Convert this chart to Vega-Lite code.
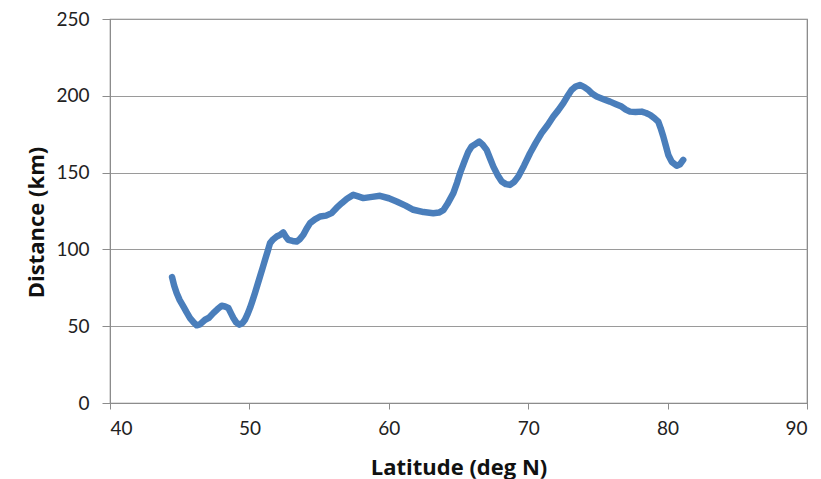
{
  "$schema": "https://vega.github.io/schema/vega-lite/v6.json",
  "width": 697,
  "height": 384,
  "autosize": {"type": "none"},
  "padding": {"left": 110, "top": 19, "right": 14, "bottom": 76},
  "background": "white",
  "config": {
    "view": {"stroke": "#808080", "strokeWidth": 1.2},
    "font": "Lato"
  },
  "data": {
    "values": [
      {"lat": 44.45, "dist": 82.0},
      {"lat": 44.6, "dist": 76.5},
      {"lat": 44.78, "dist": 71.6},
      {"lat": 45.0, "dist": 67.0},
      {"lat": 45.26, "dist": 62.9},
      {"lat": 45.5, "dist": 59.0},
      {"lat": 45.74, "dist": 55.3},
      {"lat": 46.0, "dist": 52.5},
      {"lat": 46.22, "dist": 50.6},
      {"lat": 46.45, "dist": 51.2},
      {"lat": 46.82, "dist": 54.2},
      {"lat": 47.1, "dist": 55.5},
      {"lat": 47.41, "dist": 58.5},
      {"lat": 47.7, "dist": 61.0},
      {"lat": 48.01, "dist": 63.3},
      {"lat": 48.25, "dist": 62.8},
      {"lat": 48.49, "dist": 61.8},
      {"lat": 48.7, "dist": 58.0},
      {"lat": 48.85, "dist": 55.3},
      {"lat": 49.05, "dist": 52.5},
      {"lat": 49.28, "dist": 51.0},
      {"lat": 49.5, "dist": 52.0},
      {"lat": 49.68, "dist": 54.2},
      {"lat": 49.85, "dist": 57.5},
      {"lat": 50.04, "dist": 61.8},
      {"lat": 50.2, "dist": 66.0},
      {"lat": 50.4, "dist": 71.6},
      {"lat": 50.58, "dist": 77.0},
      {"lat": 50.76, "dist": 82.4},
      {"lat": 50.95, "dist": 88.0},
      {"lat": 51.12, "dist": 93.2},
      {"lat": 51.3, "dist": 98.5},
      {"lat": 51.48, "dist": 104.1},
      {"lat": 51.7, "dist": 106.5},
      {"lat": 51.96, "dist": 108.4},
      {"lat": 52.2, "dist": 109.5},
      {"lat": 52.43, "dist": 111.0},
      {"lat": 52.6, "dist": 108.5},
      {"lat": 52.79, "dist": 106.2},
      {"lat": 53.1, "dist": 105.5},
      {"lat": 53.39, "dist": 105.1},
      {"lat": 53.6, "dist": 106.5},
      {"lat": 53.87, "dist": 109.5},
      {"lat": 54.1, "dist": 113.5},
      {"lat": 54.35, "dist": 117.1},
      {"lat": 54.7, "dist": 119.5},
      {"lat": 55.07, "dist": 121.4},
      {"lat": 55.5, "dist": 122.0},
      {"lat": 55.9, "dist": 123.6},
      {"lat": 56.25, "dist": 127.0},
      {"lat": 56.62, "dist": 130.1},
      {"lat": 57.0, "dist": 133.0},
      {"lat": 57.45, "dist": 135.5},
      {"lat": 57.8, "dist": 134.5},
      {"lat": 58.17, "dist": 133.4},
      {"lat": 58.8, "dist": 134.2},
      {"lat": 59.37, "dist": 134.9},
      {"lat": 60.0, "dist": 133.3},
      {"lat": 60.56, "dist": 131.2},
      {"lat": 61.2, "dist": 128.5},
      {"lat": 61.76, "dist": 125.8},
      {"lat": 62.5, "dist": 124.3},
      {"lat": 63.19, "dist": 123.6},
      {"lat": 63.6, "dist": 124.0},
      {"lat": 63.91, "dist": 125.5},
      {"lat": 64.2, "dist": 129.5},
      {"lat": 64.63, "dist": 136.6},
      {"lat": 64.9, "dist": 143.5},
      {"lat": 65.11, "dist": 149.6},
      {"lat": 65.47, "dist": 158.3},
      {"lat": 65.7, "dist": 163.5},
      {"lat": 65.94, "dist": 167.0},
      {"lat": 66.2, "dist": 168.5},
      {"lat": 66.49, "dist": 170.2},
      {"lat": 66.75, "dist": 168.0},
      {"lat": 67.02, "dist": 164.8},
      {"lat": 67.25, "dist": 159.5},
      {"lat": 67.5, "dist": 153.9},
      {"lat": 67.8, "dist": 148.5},
      {"lat": 68.1, "dist": 144.2},
      {"lat": 68.4, "dist": 142.5},
      {"lat": 68.69, "dist": 142.0},
      {"lat": 69.0, "dist": 144.0},
      {"lat": 69.29, "dist": 147.4},
      {"lat": 69.7, "dist": 154.5},
      {"lat": 70.13, "dist": 162.6},
      {"lat": 70.55, "dist": 169.5},
      {"lat": 70.96, "dist": 175.7},
      {"lat": 71.4, "dist": 181.0},
      {"lat": 71.8, "dist": 186.5},
      {"lat": 72.15, "dist": 190.5},
      {"lat": 72.52, "dist": 195.2},
      {"lat": 72.8, "dist": 199.5},
      {"lat": 73.11, "dist": 203.8},
      {"lat": 73.4, "dist": 206.0},
      {"lat": 73.71, "dist": 207.0},
      {"lat": 74.0, "dist": 205.8},
      {"lat": 74.31, "dist": 203.8},
      {"lat": 74.6, "dist": 201.3},
      {"lat": 74.91, "dist": 199.5},
      {"lat": 75.4, "dist": 197.8},
      {"lat": 75.87, "dist": 196.2},
      {"lat": 76.3, "dist": 194.5},
      {"lat": 76.7, "dist": 193.0},
      {"lat": 77.0, "dist": 191.0},
      {"lat": 77.3, "dist": 189.7},
      {"lat": 77.7, "dist": 189.5},
      {"lat": 78.14, "dist": 189.7},
      {"lat": 78.45, "dist": 188.8},
      {"lat": 78.74, "dist": 187.6},
      {"lat": 79.05, "dist": 185.5},
      {"lat": 79.33, "dist": 183.2},
      {"lat": 79.5, "dist": 179.0},
      {"lat": 79.69, "dist": 173.5},
      {"lat": 79.87, "dist": 167.5},
      {"lat": 80.05, "dist": 161.5},
      {"lat": 80.3, "dist": 157.0},
      {"lat": 80.65, "dist": 154.5},
      {"lat": 80.9, "dist": 155.5},
      {"lat": 81.12, "dist": 158.3}
    ]
  },
  "mark": {"type": "line", "color": "#4a7ebb", "strokeWidth": 6.5, "strokeCap": "round", "strokeJoin": "round"},
  "encoding": {
    "x": {
      "field": "lat",
      "type": "quantitative",
      "scale": {"domain": [40, 90], "nice": false, "zero": false},
      "axis": {
        "title": "Latitude (deg N)",
        "values": [40, 50, 60, 70, 80, 90],
        "grid": false,
        "domainColor": "#8c8c8c",
        "tickColor": "#8c8c8c",
        "tickSize": 6,
        "labelFontSize": 19,
        "labelColor": "#222222",
        "labelPadding": 10,
        "labelFont": "Lato",
        "titleFont": "Open Sans",
        "titleFontSize": 22,
        "titleFontWeight": "bold",
        "titleColor": "#111111",
        "titleBaseline": "alphabetic",
        "titleY": 71
      }
    },
    "y": {
      "field": "dist",
      "type": "quantitative",
      "scale": {"domain": [0, 250], "nice": false},
      "axis": {
        "title": "Distance (km)",
        "values": [0, 50, 100, 150, 200, 250],
        "grid": true,
        "gridColor": "#9a9a9a",
        "domainColor": "#8c8c8c",
        "tickColor": "#8c8c8c",
        "tickSize": 8,
        "labelFontSize": 19,
        "labelColor": "#222222",
        "labelPadding": 13,
        "labelFont": "Lato",
        "titleFont": "Open Sans",
        "titleFontSize": 22,
        "titleFontWeight": "bold",
        "titleColor": "#111111",
        "titleBaseline": "alphabetic",
        "titleX": -67,
        "titleY": 203
      }
    }
  }
}
